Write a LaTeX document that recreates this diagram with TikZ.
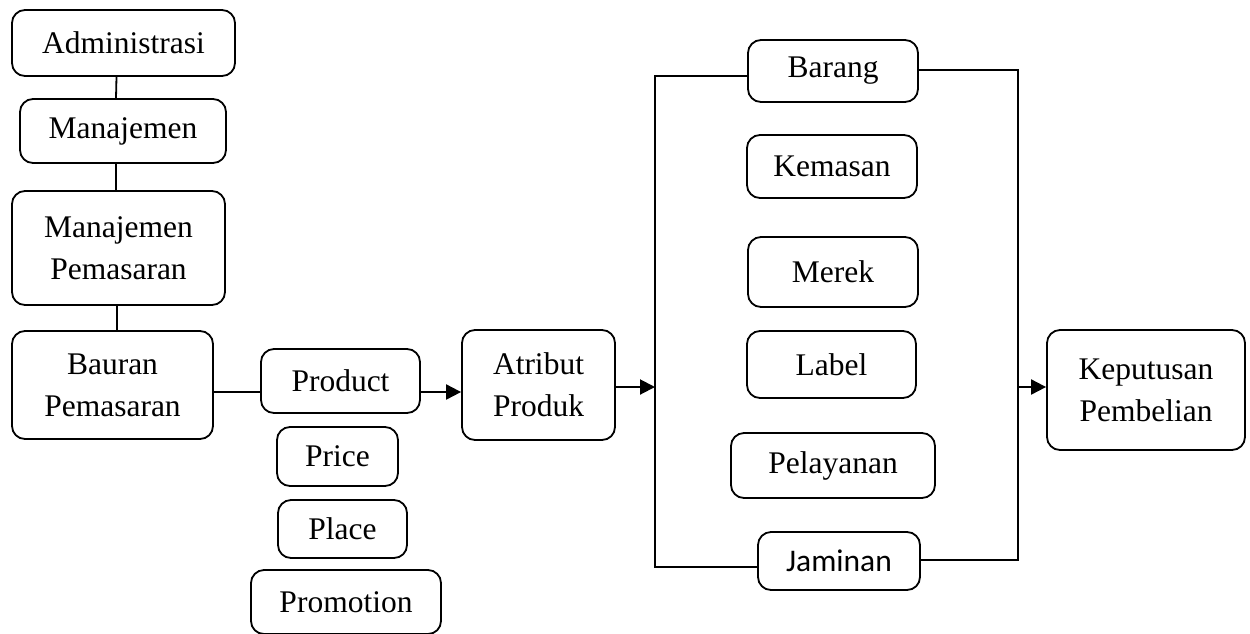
\documentclass[tikz,border=0pt]{standalone}
\usepackage{fontspec}
\setmainfont{Liberation Serif}
\newfontfamily\calibrifont{Carlito}
\usetikzlibrary{arrows.meta, positioning}

\begin{document}
\begin{tikzpicture}[
  x=1pt, y=-1pt,
  box/.style={draw, rounded corners=13pt, align=center, inner sep=0pt, line width=1.8pt,
    font=\fontsize{31.5}{42}\selectfont},
  link/.style={line width=1.8pt},
  arrow/.style={-{Triangle[length=15pt, width=15pt]}, line width=2pt},
]
  \useasboundingbox (0,0) rectangle (1250,633);

  % left column
  \node[box, minimum width=223pt, minimum height=66pt] (admin) at (123.5,43) {Administrasi};
  \node[box, minimum width=206pt, minimum height=64pt] (manaj) at (123,131) {Manajemen};
  \node[box, minimum width=213pt, minimum height=114pt] (manpem) at (118.5,248) {Manajemen\\Pemasaran};
  \node[box, minimum width=201pt, minimum height=108pt] (bauran) at (112.5,385) {Bauran\\Pemasaran};

  % marketing mix
  \node[box, minimum width=159pt, minimum height=64pt] (product) at (340.5,381) {Product};
  \node[box, minimum width=121pt, minimum height=59pt] (price) at (337.5,456.5) {Price};
  \node[box, minimum width=129pt, minimum height=58pt] (place) at (342.5,529) {Place};
  \node[box, minimum width=190pt, minimum height=64pt] (promotion) at (346,602) {Promotion};

  \node[box, minimum width=153pt, minimum height=110pt] (atribut) at (538.5,385) {Atribut\\Produk};

  % product attributes
  \node[box, minimum width=170pt, minimum height=62pt] (barang) at (833,71) {Barang};
  \node[box, minimum width=170pt, minimum height=63pt] (kemasan) at (832,166.5) {Kemasan};
  \node[box, minimum width=170pt, minimum height=70pt] (merek) at (833,272) {Merek};
  \node[box, minimum width=169pt, minimum height=67pt] (label) at (831.5,364.5) {Label};
  \node[box, minimum width=204pt, minimum height=65pt] (pelayanan) at (833,465.5) {Pelayanan};
  \node[box, minimum width=162pt, minimum height=58pt, font=\calibrifont\fontsize{31.5}{42}\selectfont] (jaminan) at (839,561) {Jaminan};

  \node[box, minimum width=198pt, minimum height=120pt] (keputusan) at (1146,390) {Keputusan\\Pembelian};

  \coordinate (lb) at (655,387);
  \coordinate (rb) at (1018,387);

  % connectors
  \draw[link] ([xshift=-7pt]admin.south) -- ([xshift=-7pt]manaj.north);
  \draw[link] ([xshift=-7pt]manaj.south) -- ([xshift=-2.5pt]manpem.north);
  \draw[link] ([xshift=-1.5pt]manpem.south) -- ([xshift=4.5pt]bauran.north);
  \draw[link] ([yshift=-7pt]bauran.east) -- ([yshift=-11pt]product.west);
  \draw[arrow] ([yshift=-11pt]product.east) -- ([yshift=-7pt]atribut.west);
  \draw[arrow] ([yshift=-2pt]atribut.east) -- (lb);
  \draw[link] ([yshift=-5pt]barang.west) -| (lb) |- ([yshift=-6pt]jaminan.west);
  \draw[link] ([yshift=1pt]barang.east) -| (rb) |- ([yshift=1pt]jaminan.east);
  \draw[arrow] (rb) -- (rb -| keputusan.west);
\end{tikzpicture}
\end{document}
